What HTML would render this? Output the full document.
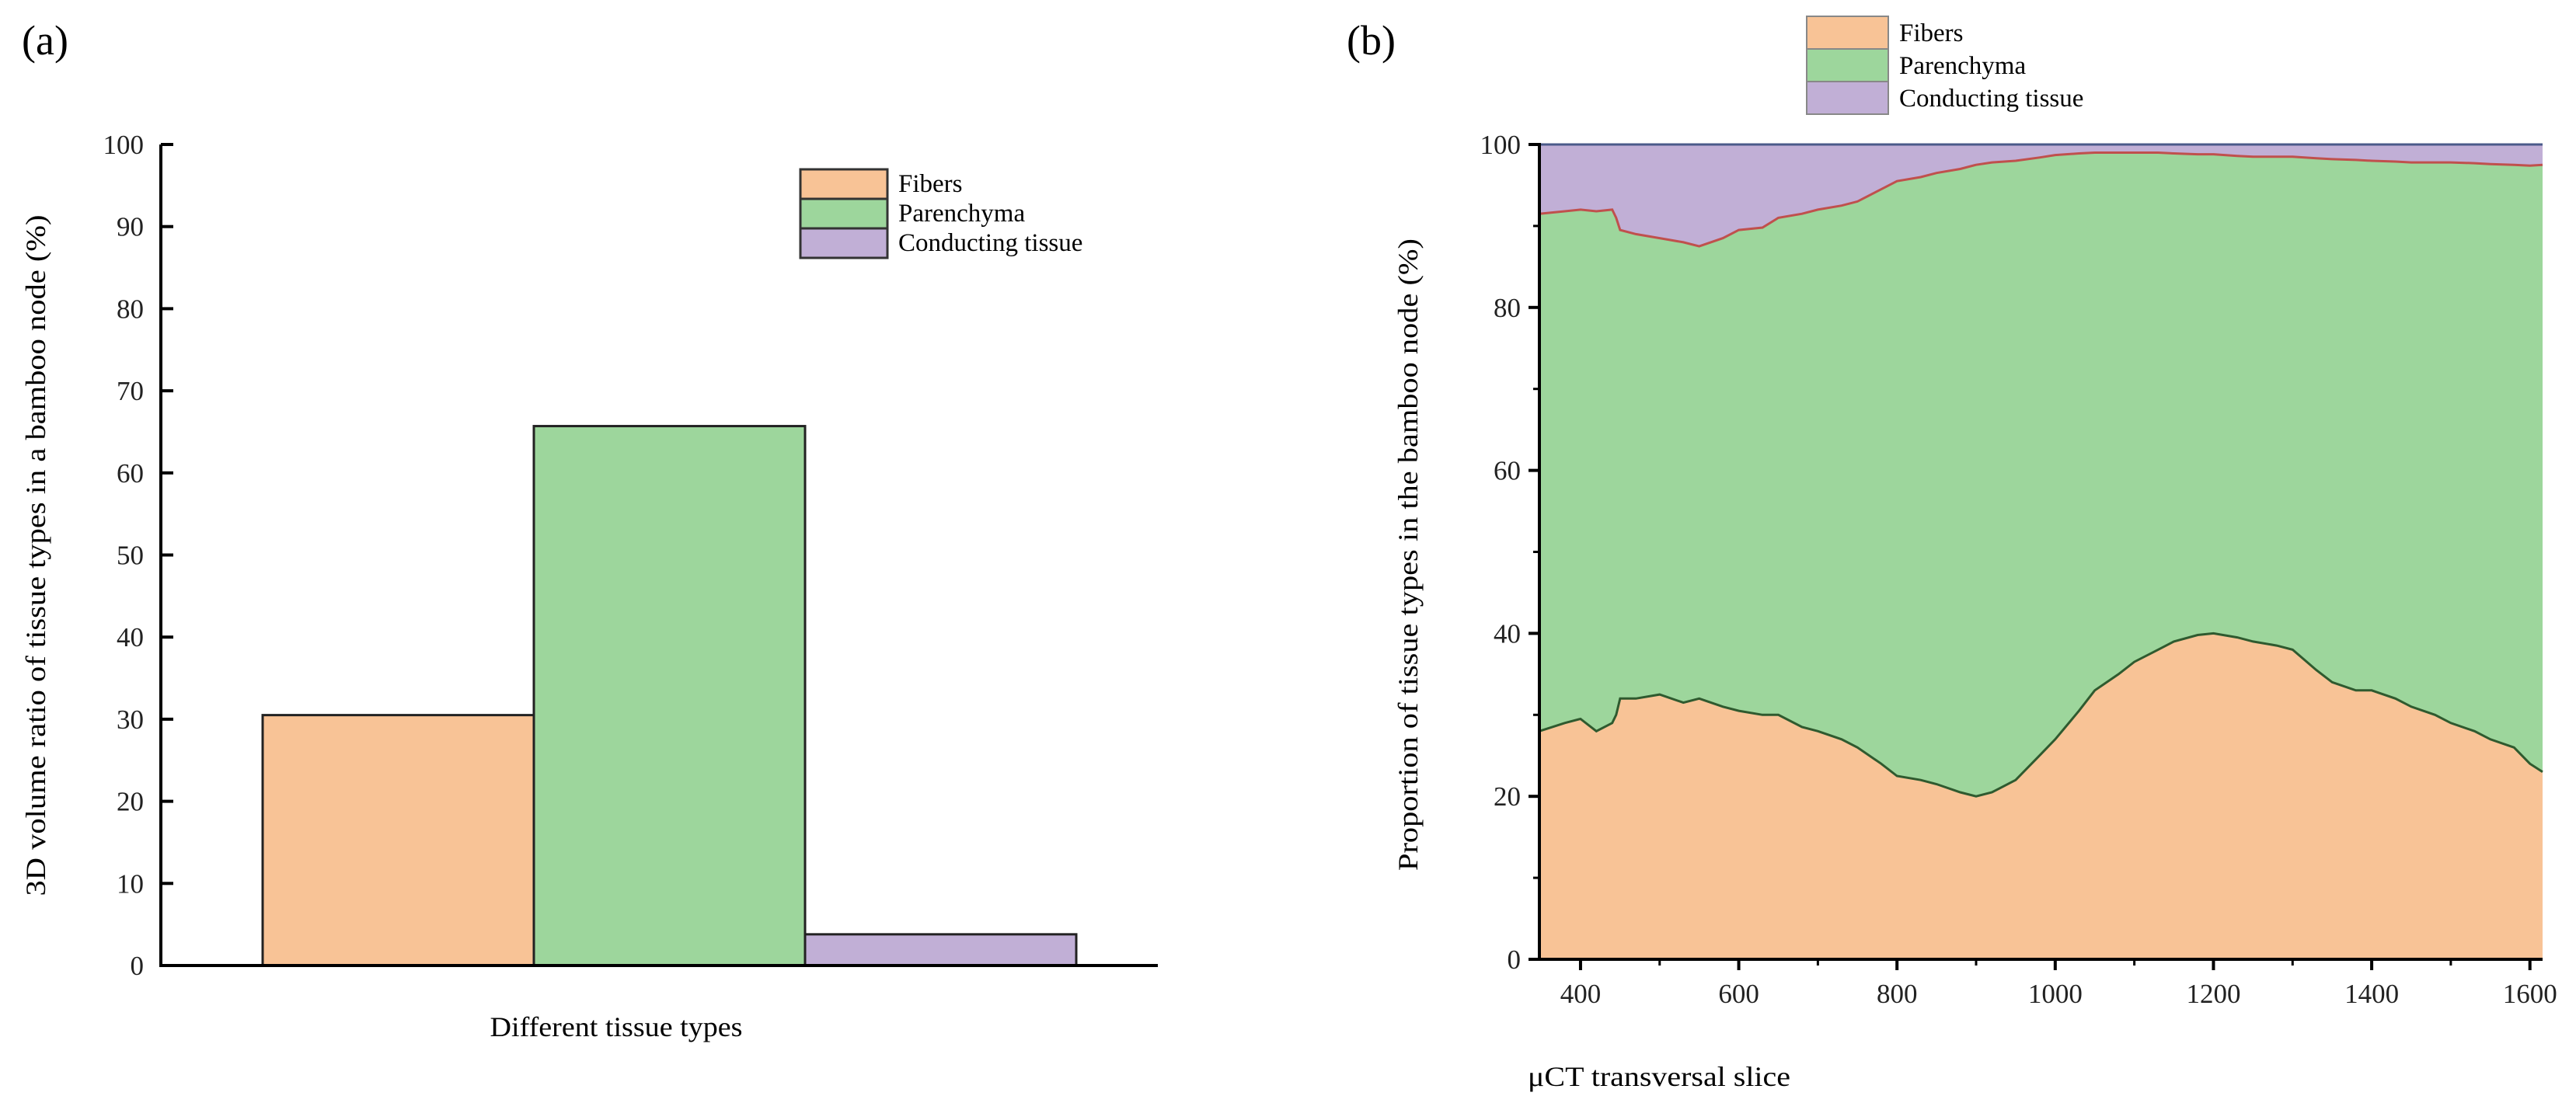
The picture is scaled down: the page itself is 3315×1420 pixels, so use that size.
<!DOCTYPE html>
<html><head><meta charset="utf-8"><style>
html,body{margin:0;padding:0;background:#fff;}
svg{display:block;font-family:"Liberation Serif",serif;}
</style></head><body>
<svg id="chart" width="3315" height="1420" viewBox="0 0 3315 1420" xmlns="http://www.w3.org/2000/svg"></svg>
<script>
// Panel (a) data
const barCategories = ["Fibers", "Parenchyma", "Conducting tissue"];
const barValues = [30.5, 65.7, 3.8];
const barColors = ["#f8c396", "#9dd69c", "#c1afd6"];
const aTicks = [0,10,20,30,40,50,60,70,80,90,100];
// Panel (b) data
const sliceX = [348,380,400,420,440,445,450,470,500,530,550,580,600,630,650,680,700,730,750,780,800,830,850,880,900,920,950,980,1000,1030,1050,1080,1100,1130,1150,1180,1200,1230,1250,1280,1300,1330,1350,1380,1400,1430,1450,1480,1500,1530,1550,1580,1600,1616];
const fiberVals = [28,29,29.5,28,29,30,32,32,32.5,31.5,32,31,30.5,30,30,28.5,28,27,26,24,22.5,22,21.5,20.5,20,20.5,22,25,27,30.5,33,35,36.5,38,39,39.8,40,39.5,39,38.5,38,35.5,34,33,33,32,31,30,29,28,27,26,24,23];
const topVals = [91.5,91.8,92,91.8,92,91,89.5,89,88.5,88,87.5,88.5,89.5,89.8,91,91.5,92,92.5,93,94.5,95.5,96,96.5,97,97.5,97.8,98,98.4,98.7,98.9,99,99,99,99,98.9,98.8,98.8,98.6,98.5,98.5,98.5,98.3,98.2,98.1,98,97.9,97.8,97.8,97.8,97.7,97.6,97.5,97.4,97.5];
const bYTicks = [0,20,40,60,80,100];
const bXTicks = [400,600,800,1000,1200,1400,1600];

const NS="http://www.w3.org/2000/svg";
const svg=document.getElementById('chart');
function mk(tag,attrs,parent){const e=document.createElementNS(NS,tag);for(const k in attrs)e.setAttribute(k,attrs[k]);(parent||svg).appendChild(e);return e;}

// ---------- Panel a ----------
const aX0=207, aY0=1243, aY100=186, aRight=1490;
const ay=v=>aY0-(v/100)*(aY0-aY100);
const barLeft=338, barW=349;
let t=mk('text',{x:28,y:70,'font-size':54});t.textContent='(a)';


barValues.forEach((v,i)=>{
  const r=mk('rect',{x:barLeft+i*barW,y:ay(v),width:barW,height:aY0-ay(v),fill:barColors[i],stroke:'#222','stroke-width':3});
  
  
});
let l=mk('line',{x1:aX0,y1:aY100,x2:aX0,y2:aY0,stroke:'#000','stroke-width':4});


l=mk('line',{x1:aX0-2,y1:aY0,x2:aRight,y2:aY0,stroke:'#000','stroke-width':4});


aTicks.forEach(v=>{
  const tk=mk('line',{x1:aX0,y1:ay(v),x2:aX0+16,y2:ay(v),stroke:'#000','stroke-width':4});
  
  
  const tl=mk('text',{x:aX0-22,y:ay(v)+12,'font-size':35,'text-anchor':'end',fill:'#222'});
  tl.textContent=v;
  
  
});
t=mk('text',{x:0,y:0,'font-size':36,'text-anchor':'middle',textLength:877,lengthAdjust:'spacingAndGlyphs',transform:'translate(58,715) rotate(-90)'});
t.textContent='3D volume ratio of tissue types in a bamboo node (%)';


t=mk('text',{x:793,y:1334,'font-size':36,'text-anchor':'middle',textLength:325,lengthAdjust:'spacingAndGlyphs'});
t.textContent='Different tissue types';


barCategories.forEach((c,i)=>{
  const y=218+i*38;
  const b=mk('rect',{x:1030,y:y,width:112,height:38,fill:barColors[i],stroke:'#333','stroke-width':3});
  
  
  const tx=mk('text',{x:1156,y:y+29,'font-size':33});
  tx.textContent=c;
  
  
});

// ---------- Panel b ----------
const bL=1981, bR=3272, bY0=1235, bY100=186;
const xMin=348, xMax=1616;
const bx=v=>bL+(v-xMin)/(xMax-xMin)*(bR-bL);
const by=v=>bY0-(v/100)*(bY0-bY100);
t=mk('text',{x:1733,y:70,'font-size':54});t.textContent='(b)';


function pts(vals){return sliceX.map((x,i)=>[bx(x),by(vals[i])]);}
const fp=pts(fiberVals), tp=pts(topVals);
const toD=p=>p.map((q,i)=>(i?'L':'M')+q[0].toFixed(1)+','+q[1].toFixed(1)).join('');
let a=mk('rect',{x:bL,y:bY100,width:bR-bL,height:bY0-bY100,fill:'#c1afd6'});


a=mk('path',{d:toD(tp)+`L${bR},${bY0}L${bL},${bY0}Z`,fill:'#9dd69c'});


a=mk('path',{d:toD(fp)+`L${bR},${bY0}L${bL},${bY0}Z`,fill:'#f8c396'});


a=mk('path',{d:toD(tp),fill:'none',stroke:'#c0504d','stroke-width':3});


a=mk('path',{d:toD(fp),fill:'none',stroke:'#2f5a2f','stroke-width':3});


l=mk('line',{x1:bL,y1:bY100,x2:bR,y2:bY100,stroke:'#4a5a8a','stroke-width':3});


l=mk('line',{x1:bL,y1:bY100-2,x2:bL,y2:bY0+2,stroke:'#000','stroke-width':4});


l=mk('line',{x1:bL-2,y1:bY0,x2:bR,y2:bY0,stroke:'#000','stroke-width':4});


bYTicks.forEach((v,i)=>{
  const tk=mk('line',{x1:bL-14,y1:by(v),x2:bL,y2:by(v),stroke:'#000','stroke-width':4});
  
  
  if(i<bYTicks.length-1){
    const m=mk('line',{x1:bL-8,y1:by(v+10),x2:bL,y2:by(v+10),stroke:'#000','stroke-width':3});
    
    
  }
  const tl=mk('text',{x:bL-24,y:by(v)+12,'font-size':35,'text-anchor':'end',fill:'#222'});
  tl.textContent=v;
  
  
});
bXTicks.forEach(v=>{
  const tk=mk('line',{x1:bx(v),y1:bY0,x2:bx(v),y2:bY0+14,stroke:'#000','stroke-width':4});
  
  
  if(v+100<=xMax){
    const m=mk('line',{x1:bx(v+100),y1:bY0,x2:bx(v+100),y2:bY0+8,stroke:'#000','stroke-width':3});
    
    
  }
  const tl=mk('text',{x:bx(v),y:bY0+56,'font-size':35,'text-anchor':'middle',fill:'#222'});
  tl.textContent=v;
  
  
});
t=mk('text',{x:0,y:0,'font-size':36,'text-anchor':'middle',textLength:814,lengthAdjust:'spacingAndGlyphs',transform:'translate(1824,714) rotate(-90)'});
t.textContent='Proportion of tissue types in the bamboo node (%)';


t=mk('text',{x:2135,y:1398,'font-size':36,'text-anchor':'middle',textLength:338,lengthAdjust:'spacingAndGlyphs'});
t.textContent='μCT transversal slice';


barCategories.forEach((c,i)=>{
  const y=21+i*42;
  const b=mk('rect',{x:2325,y:y,width:105,height:42,fill:barColors[i],stroke:'#888','stroke-width':2});
  
  
  const tx=mk('text',{x:2444,y:y+32,'font-size':33});
  tx.textContent=c;
  
  
});
</script>
</body></html>
